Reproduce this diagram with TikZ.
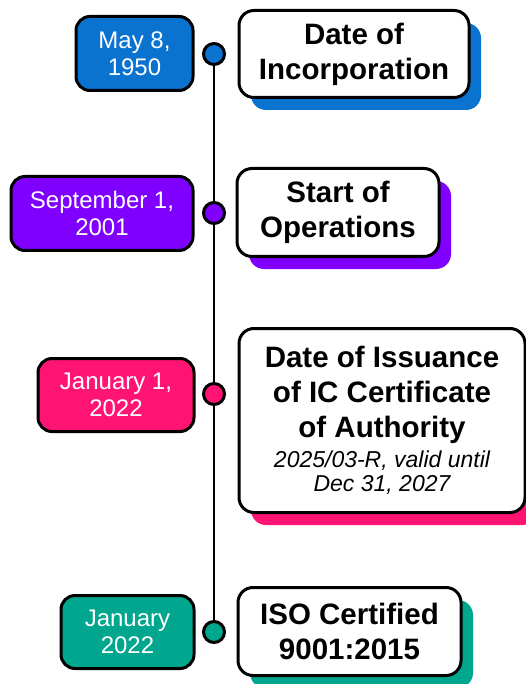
\documentclass[tikz,border=0pt]{standalone}
\usepackage{fontspec}
\setmainfont{Liberation Sans}
\usetikzlibrary{shadows}
\frenchspacing

\definecolor{tlblue}{HTML}{0A72CF}
\definecolor{tlpurple}{HTML}{7F00FF}
\definecolor{tlpink}{HTML}{FF1473}
\definecolor{tlteal}{HTML}{00A68D}

\newcommand{\evnote}[1]{{\mdseries\itshape\fontsize{23}{25}\selectfont #1}}

\tikzset{
  spine/.style={line width=2.6pt, black},
  dot/.style={circle, draw=black, line width=3pt, fill=#1, minimum size=21pt, inner sep=0pt},
  datebox/.style={draw=black, line width=3pt, rounded corners=14pt, fill=#1, text=white,
    align=flush center, inner sep=0pt, minimum height=74pt, anchor=east,
    font=\fontsize{24}{27}\selectfont},
  eventbox/.style={draw=black, line width=3pt, rounded corners=15pt, fill=white,
    align=flush center, inner sep=0pt, anchor=west, font=\bfseries\fontsize{29.5}{35}\selectfont,
    general shadow={fill=#1, shadow xshift=12pt, shadow yshift=-12.5pt}},
}

\begin{document}
\begin{tikzpicture}[x=1pt, y=-1pt]
\useasboundingbox (0,0) rectangle (526,684);

\def\lx{214}

% timeline dots
\node[dot=tlblue] (c1) at (\lx,54) {};
\node[dot=tlpurple] (c2) at (\lx,213) {};
\node[dot=tlpink] (c3) at (\lx,394) {};
\node[dot=tlteal] (c4) at (\lx,632) {};

\draw[spine] (c1) -- (c2);
\draw[spine] (c2) -- (c3);
\draw[spine] (c3) -- (c4);

% dates
\node[datebox=tlblue, text width=117pt] (d1) at (194.5,53.5) {May 8,\\1950};
\node[datebox=tlpurple, text width=182pt] (d2) at (194.5,213.5) {September 1,\\2001};
\node[datebox=tlpink, text width=156pt, minimum height=73pt] (d3) at (195.5,395) {January 1,\\2022};
\node[datebox=tlteal, text width=133pt, minimum height=73pt] (d4) at (195.5,632) {January\\2022};

% events
\node[eventbox=tlblue, text width=230pt, minimum height=87pt] (e1) at (237.5,54) {Date of\\Incorporation};
\node[eventbox=tlpurple, text width=202pt, minimum height=88pt] (e2) at (235.5,212.5) {Start of\\Operations};
\node[eventbox=tlpink, text width=286pt, minimum height=184pt] (e3) at (237.5,420.5)
  {Date of Issuance\\of IC Certificate\\of Authority\\[-5pt]\evnote{2025/03-R, valid until}\\[-11pt]\evnote{Dec 31, 2027}};
\node[eventbox=tlteal, text width=223pt, minimum height=88pt] (e4) at (236.5,631.5) {ISO Certified\\9001:2015};
\end{tikzpicture}
\end{document}
